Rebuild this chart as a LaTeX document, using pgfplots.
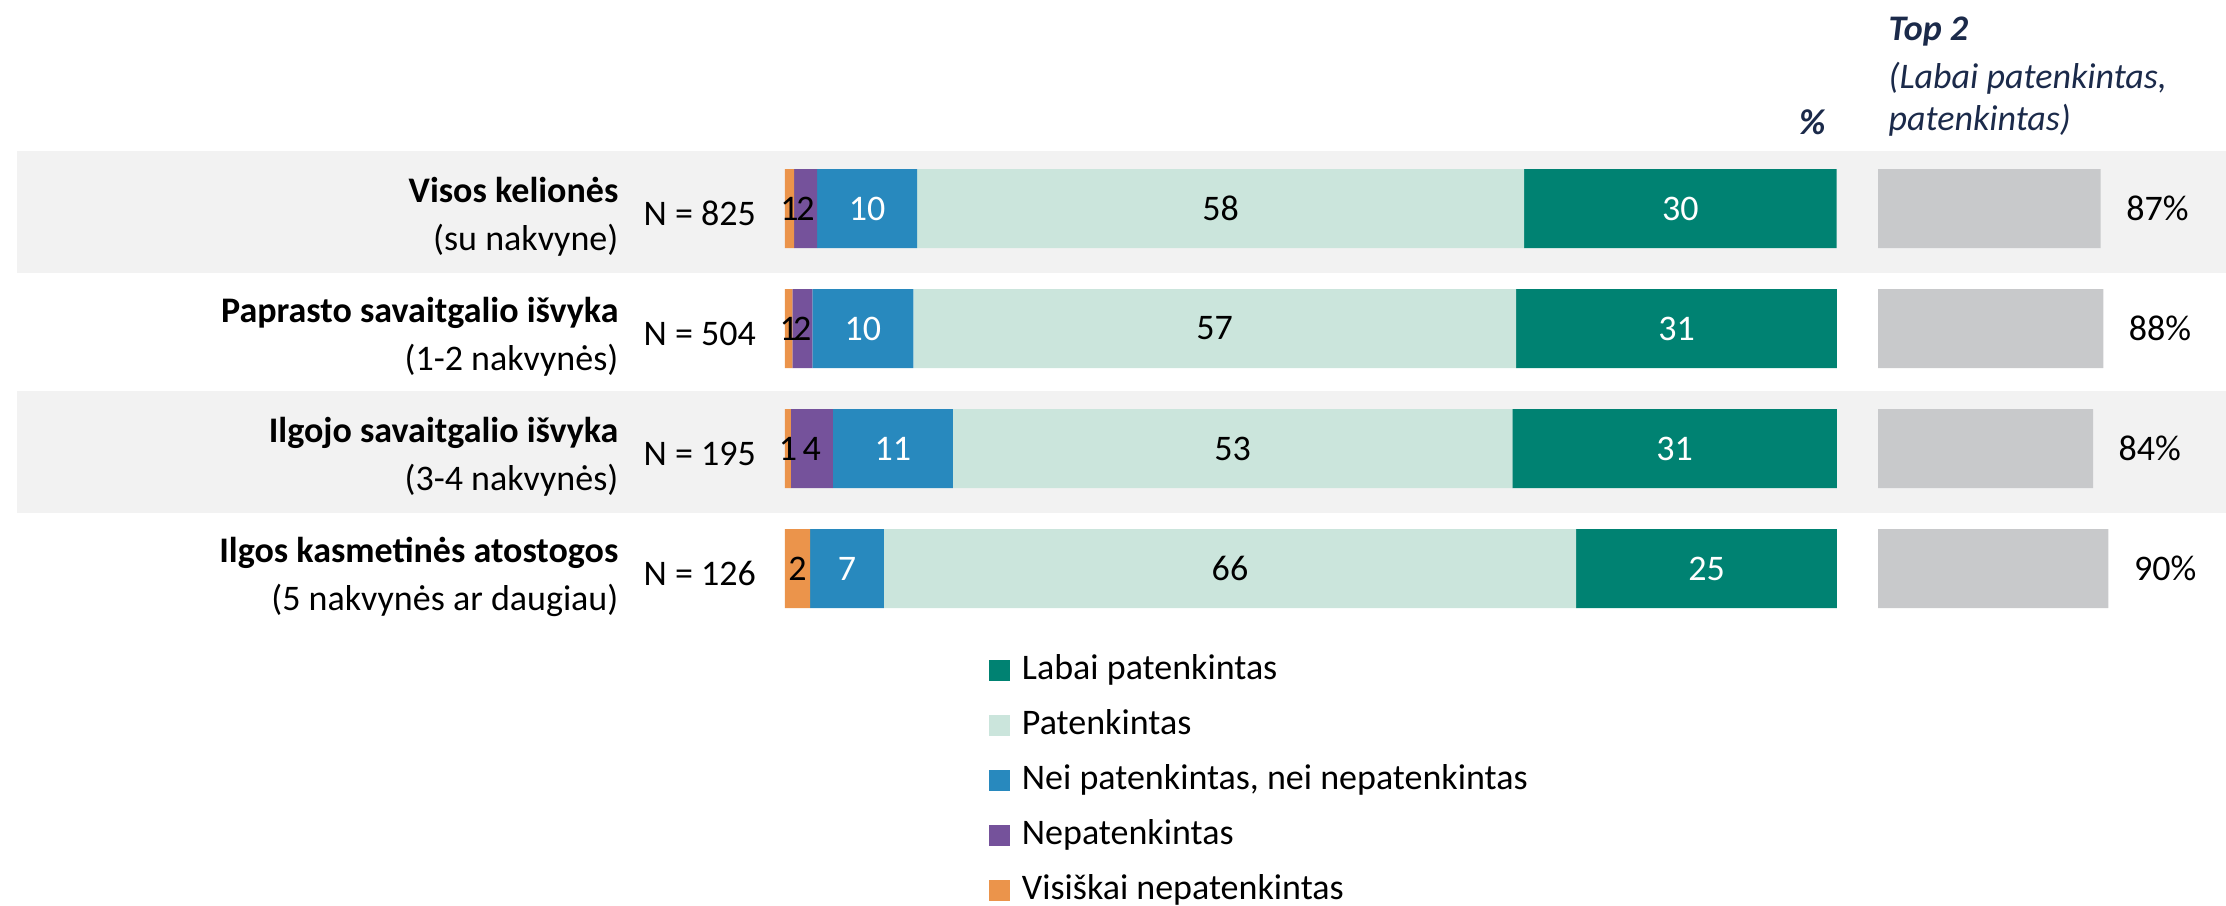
\documentclass[border=0pt]{standalone}
\usepackage{fontspec}
\setmainfont{Carlito}
\usepackage{pgfplots}
\usepackage{pgfplotstable}
\pgfplotsset{compat=1.18}
\definecolor{cteal}{HTML}{008272}
\definecolor{clight}{HTML}{CBE5DC}
\definecolor{cblue}{HTML}{2889BE}
\definecolor{cpurple}{HTML}{75529B}
\definecolor{corange}{HTML}{EB944B}
\definecolor{ctop}{HTML}{C8C9CB}
\definecolor{cband}{HTML}{F2F2F2}
\definecolor{cnavy}{HTML}{1B2A4A}
\newcommand\fs{\fontsize{10.8pt}{13pt}\selectfont}

\pgfplotstableread{
y x lab
0 0.86 1
1 0.7 1
2 0.55 1
3 2.4 2
}\orangedata
\pgfplotstableread{
y x lab
0 2.2 2
1 1.9 2
2 4.0 4
3 0 {}
}\purpledata
\pgfplotstableread{
y x lab
0 9.5 10
1 9.6 10
2 11.4 11
3 7.0 7
}\bluedata
\pgfplotstableread{
y x lab
0 57.7 58
1 57.3 57
2 53.2 53
3 65.8 66
}\lightdata
\pgfplotstableread{
y x lab
0 29.7 30
1 30.5 31
2 30.85 31
3 24.8 25
}\tealdata
\pgfplotstableread{
y x
0 87
1 88
2 84
3 90
}\toptwo

\tikzset{
  catb/.style={anchor=base east, inner sep=0pt, font=\fs\bfseries, xshift=-49.8pt, yshift=1.95pt},
  catn/.style={anchor=base east, inner sep=0pt, font=\fs, xshift=-49.8pt, yshift=-12.45pt},
  nlab/.style={anchor=base west, inner sep=0pt, font=\fs, xshift=-42.6pt, yshift=-4.95pt},
}

\begin{document}
\begin{tikzpicture}[font=\fs]
% background bands
\fill[cband] (5.1pt,189.6pt) rectangle (667.8pt,226.2pt);
\fill[cband] (5.1pt,117.6pt) rectangle (667.8pt,154.2pt);

% headers
\node[anchor=base west, inner sep=0pt, text=cnavy, font=\fs\bfseries\itshape] at (566.4pt,259.5pt) {Top 2};
\node[anchor=base west, inner sep=0pt, text=cnavy, font=\fs\itshape] at (566.4pt,245.1pt) {(Labai patenkintas,};
\node[anchor=base west, inner sep=0pt, text=cnavy, font=\fs\itshape] at (566.4pt,232.5pt) {patenkintas)};
\node[anchor=base east, inner sep=0pt, text=cnavy, font=\fs\bfseries\itshape] at (547.8pt,231.3pt) {\%};

\begin{axis}[
  at={(235.5pt,82.95pt)}, anchor=south west,
  width=315.6pt, height=144pt, scale only axis,
  xbar stacked, bar width=23.7pt,
  xmin=0, xmax=100, ymin=-0.5, ymax=3.5, y dir=reverse,
  hide axis, clip=false,
  point meta=explicit symbolic,
  nodes near coords,
  every node near coord/.append style={anchor=center, inner sep=0pt, font=\fs},
  legend image code/.code={\path[#1,draw=none] (0pt,-3.15pt) rectangle (6.3pt,3.15pt);},
  reverse legend,
  legend cell align=left,
  legend style={draw=none, fill=none, inner sep=0pt, outer sep=0pt,
     at={(0.1939,-0.0531)}, anchor=north west, font=\fs,
     row sep=6.5pt, column sep=3.6pt,
     nodes={inner sep=0pt, text height=7.6pt, text depth=2.4pt}},
]
\addplot[fill=corange, draw=none] table[x=x,y=y,meta=lab]{\orangedata};
\addlegendentry{Visiškai nepatenkintas}
\addplot[fill=cpurple, draw=none] table[x=x,y=y,meta=lab]{\purpledata};
\addlegendentry{Nepatenkintas}
\addplot[fill=cblue, draw=none, every node near coord/.append style={text=white}] table[x=x,y=y,meta=lab]{\bluedata};
\addlegendentry{Nei patenkintas, nei nepatenkintas}
\addplot[fill=clight, draw=none] table[x=x,y=y,meta=lab]{\lightdata};
\addlegendentry{Patenkintas}
\addplot[fill=cteal, draw=none, every node near coord/.append style={text=white}] table[x=x,y=y,meta=lab]{\tealdata};
\addlegendentry{Labai patenkintas}

% category labels
\node[catb] at (axis cs:0,0) {Visos kelionės};
\node[catn] at (axis cs:0,0) {(su nakvyne)};
\node[nlab] at (axis cs:0,0) {N = 825};
\node[catb] at (axis cs:0,1) {Paprasto savaitgalio išvyka};
\node[catn] at (axis cs:0,1) {(1-2 nakvynės)};
\node[nlab] at (axis cs:0,1) {N = 504};
\node[catb] at (axis cs:0,2) {Ilgojo savaitgalio išvyka};
\node[catn] at (axis cs:0,2) {(3-4 nakvynės)};
\node[nlab] at (axis cs:0,2) {N = 195};
\node[catb] at (axis cs:0,3) {Ilgos kasmetinės atostogos};
\node[catn] at (axis cs:0,3) {(5 nakvynės ar daugiau)};
\node[nlab] at (axis cs:0,3) {N = 126};
\end{axis}

\begin{axis}[
  at={(563.4pt,82.95pt)}, anchor=south west,
  width=76.8pt, height=144pt, scale only axis,
  xbar, bar width=23.7pt,
  xmin=0, xmax=100, ymin=-0.5, ymax=3.5, y dir=reverse,
  hide axis, clip=false,
  point meta=x,
  /pgf/number format/assume math mode=true,
  nodes near coords={\pgfmathprintnumber{\pgfplotspointmeta}\%},
  every node near coord/.append style={anchor=west, inner sep=0pt, xshift=7.5pt, font=\fs, text=black},
]
\addplot[fill=ctop, draw=none] table[x=x,y=y]{\toptwo};
\end{axis}

\pgfresetboundingbox
\useasboundingbox (0pt,0pt) rectangle (667.8pt,271.5pt);
\end{tikzpicture}
\end{document}
